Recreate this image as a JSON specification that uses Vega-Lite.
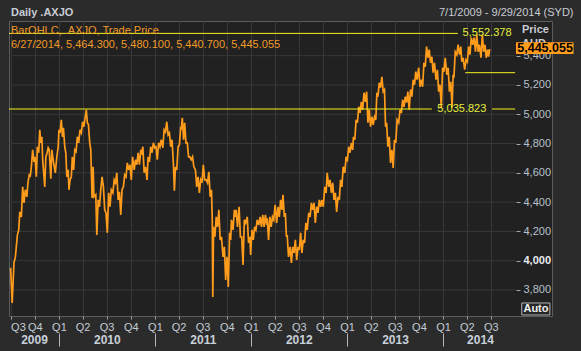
{
  "$schema": "https://vega.github.io/schema/vega-lite/v6.json",
  "autosize": {"type": "none"},
  "padding": {"left": 9, "top": 21, "right": 29, "bottom": 35},
  "width": 543,
  "height": 295,
  "background": "#2b2b2b",
  "config": {
    "view": {"fill": "#212121", "stroke": "#5c5c5c", "strokeWidth": 1},
    "font": "Liberation Sans"
  },
  "title": {
    "text": "Daily .AXJO",
    "subtitle": ["BarOHLC, .AXJO, Trade Price", "6/27/2014, 5,464.300, 5,480.100, 5,440.700, 5,445.055"],
    "anchor": "start",
    "frame": "group",
    "orient": "top",
    "offset": -43,
    "dx": 2,
    "font": "Liberation Sans",
    "fontSize": 11,
    "fontWeight": "bold",
    "color": "#c8ccd4",
    "subtitleFont": "Liberation Sans",
    "subtitleFontSize": 11,
    "subtitleColor": "#f09a28",
    "subtitleLineHeight": 14,
    "subtitlePadding": 6.7
  },
  "resolve": {"axis": {"x": "independent", "y": "independent"}},
  "layer": [
    {
      "data": {"values": [{"g": 3800}, {"g": 4000}, {"g": 4200}, {"g": 4400}, {"g": 4600}, {"g": 4800}, {"g": 5000}, {"g": 5200}, {"g": 5400}]},
      "mark": {"type": "rule", "color": "#383838", "strokeWidth": 1},
      "encoding": {
        "y": {
          "field": "g",
          "type": "quantitative",
          "scale": {"domain": [3622, 5637], "zero": false, "nice": false},
          "axis": {
            "orient": "right",
            "offset": -36,
            "values": [3800, 4000, 4200, 4400, 4600, 4800, 5000, 5200, 5400],
            "format": ",d",
            "domain": false,
            "grid": false,
            "ticks": true,
            "tickSize": 4,
            "tickColor": "#a0a8b2",
            "labelPadding": 3,
            "labelFont": "Liberation Sans",
            "labelFontSize": 11,
            "labelAlign": "left",
            "labelBaseline": "middle",
            "labelColor": {"condition": {"test": "datum.value === 4000", "value": "#e8ecf0"}, "value": "#b8c0ca"},
            "labelFontWeight": {"condition": {"test": "datum.value === 4000", "value": "bold"}, "value": "normal"},
            "title": ["Price", "AUD"],
            "titleAngle": 0,
            "titleX": 5.5,
            "titleY": 11,
            "titleAlign": "left",
            "titleBaseline": "alphabetic",
            "titleFont": "Liberation Sans",
            "titleFontSize": 11,
            "titleFontWeight": "bold",
            "titleColor": "#c8ccd4",
            "titleLineHeight": 14
          }
        },
        "x": {
          "datum": {"year": 2009, "month": 6, "date": 25, "utc": true},
          "type": "temporal",
          "axis": {
            "orient": "top",
            "labels": false,
            "ticks": false,
            "domain": false,
            "grid": false,
            "title": "7/1/2009 - 9/29/2014 (SYD)",
            "titleX": 564,
            "titleY": -8.5,
            "titleAlign": "right",
            "titleBaseline": "middle",
            "titleAngle": 0,
            "titleFont": "Liberation Sans",
            "titleFontSize": 11,
            "titleFontWeight": "normal",
            "titleColor": "#c8ccd4"
          }
        },
        "x2": {"datum": {"year": 2014, "month": 10, "date": 5, "utc": true}}
      }
    },
    {
      "data": {
        "format": {"parse": {"d": "utc:'%Y-%j'"}},
        "values": [
          {"d":"2009-182","p":3951},{"d":"2009-188","p":3711},{"d":"2009-195","p":3988},{"d":"2009-200","p":4022},{"d":"2009-208","p":4176},{"d":"2009-213","p":4210},{"d":"2009-217","p":4333},{"d":"2009-223","p":4299},{"d":"2009-228","p":4504},{"d":"2009-233","p":4395},{"d":"2009-238","p":4484},{"d":"2009-244","p":4436},{"d":"2009-248","p":4532},{"d":"2009-253","p":4586},{"d":"2009-257","p":4580},{"d":"2009-261","p":4641},{"d":"2009-266","p":4757},{"d":"2009-271","p":4675},{"d":"2009-275","p":4709},{"d":"2009-280","p":4573},{"d":"2009-284","p":4778},{"d":"2009-289","p":4737},{"d":"2009-293","p":4894},{"d":"2009-297","p":4805},{"d":"2009-301","p":4846},{"d":"2009-304","p":4689},{"d":"2009-308","p":4600},{"d":"2009-312","p":4504},{"d":"2009-316","p":4709},{"d":"2009-321","p":4737},{"d":"2009-325","p":4771},{"d":"2009-329","p":4757},{"d":"2009-335","p":4560},{"d":"2009-339","p":4757},{"d":"2009-344","p":4689},{"d":"2009-347","p":4655},{"d":"2009-352","p":4600},{"d":"2009-358","p":4709},{"d":"2009-363","p":4778},
          {"d":"2010-1","p":4894},{"d":"2010-5","p":4873},{"d":"2010-10","p":4962},{"d":"2010-14","p":4846},{"d":"2010-18","p":4908},{"d":"2010-23","p":4778},{"d":"2010-27","p":4737},{"d":"2010-31","p":4573},{"d":"2010-36","p":4620},{"d":"2010-39","p":4484},{"d":"2010-43","p":4552},{"d":"2010-48","p":4573},{"d":"2010-52","p":4709},{"d":"2010-57","p":4620},{"d":"2010-61","p":4757},{"d":"2010-66","p":4745},{"d":"2010-71","p":4846},{"d":"2010-76","p":4805},{"d":"2010-81","p":4894},{"d":"2010-86","p":4873},{"d":"2010-91","p":4949},{"d":"2010-96","p":4915},{"d":"2010-101","p":4983},{"d":"2010-105","p":5031},{"d":"2010-109","p":4942},{"d":"2010-113","p":4930},{"d":"2010-118","p":4805},{"d":"2010-122","p":4757},{"d":"2010-127","p":4429},{"d":"2010-131","p":4641},{"d":"2010-134","p":4436},{"d":"2010-141","p":4450},{"d":"2010-145","p":4176},{"d":"2010-150","p":4415},{"d":"2010-155","p":4368},{"d":"2010-160","p":4484},{"d":"2010-165","p":4573},{"d":"2010-170","p":4504},{"d":"2010-175","p":4347},{"d":"2010-180","p":4326},{"d":"2010-185","p":4190},{"d":"2010-190","p":4463},{"d":"2010-195","p":4368},{"d":"2010-200","p":4484},{"d":"2010-206","p":4463},{"d":"2010-211","p":4552},{"d":"2010-216","p":4532},{"d":"2010-221","p":4600},{"d":"2010-226","p":4415},{"d":"2010-231","p":4470},{"d":"2010-236","p":4313},{"d":"2010-241","p":4484},{"d":"2010-246","p":4504},{"d":"2010-251","p":4586},{"d":"2010-256","p":4573},{"d":"2010-261","p":4668},{"d":"2010-266","p":4620},{"d":"2010-271","p":4655},{"d":"2010-276","p":4552},{"d":"2010-281","p":4709},{"d":"2010-287","p":4620},{"d":"2010-292","p":4689},{"d":"2010-297","p":4655},{"d":"2010-302","p":4737},{"d":"2010-307","p":4655},{"d":"2010-312","p":4757},{"d":"2010-316","p":4737},{"d":"2010-320","p":4778},{"d":"2010-325","p":4600},{"d":"2010-330","p":4641},{"d":"2010-336","p":4552},{"d":"2010-340","p":4709},{"d":"2010-345","p":4675},{"d":"2010-350","p":4778},{"d":"2010-355","p":4737},{"d":"2010-360","p":4805},{"d":"2010-365","p":4771},
          {"d":"2011-5","p":4778},{"d":"2011-10","p":4689},{"d":"2011-15","p":4805},{"d":"2011-20","p":4778},{"d":"2011-25","p":4826},{"d":"2011-31","p":4771},{"d":"2011-36","p":4894},{"d":"2011-41","p":4880},{"d":"2011-46","p":4949},{"d":"2011-51","p":4860},{"d":"2011-56","p":4873},{"d":"2011-61","p":4778},{"d":"2011-66","p":4826},{"d":"2011-71","p":4668},{"d":"2011-75","p":4477},{"d":"2011-79","p":4641},{"d":"2011-84","p":4620},{"d":"2011-89","p":4778},{"d":"2011-94","p":4791},{"d":"2011-99","p":4915},{"d":"2011-101","p":4894},{"d":"2011-105","p":4976},{"d":"2011-110","p":4826},{"d":"2011-114","p":4942},{"d":"2011-119","p":4805},{"d":"2011-124","p":4805},{"d":"2011-129","p":4709},{"d":"2011-134","p":4709},{"d":"2011-139","p":4689},{"d":"2011-144","p":4709},{"d":"2011-149","p":4641},{"d":"2011-155","p":4620},{"d":"2011-160","p":4504},{"d":"2011-165","p":4573},{"d":"2011-170","p":4463},{"d":"2011-175","p":4552},{"d":"2011-180","p":4532},{"d":"2011-185","p":4655},{"d":"2011-190","p":4552},{"d":"2011-196","p":4552},{"d":"2011-201","p":4532},{"d":"2011-206","p":4607},{"d":"2011-211","p":4436},{"d":"2011-216","p":4484},{"d":"2011-219","p":4279},{"d":"2011-221","p":3752},{"d":"2011-224","p":4231},{"d":"2011-229","p":4163},{"d":"2011-234","p":4299},{"d":"2011-239","p":4231},{"d":"2011-244","p":4347},{"d":"2011-249","p":4142},{"d":"2011-254","p":4163},{"d":"2011-260","p":4026},{"d":"2011-265","p":4094},{"d":"2011-270","p":3868},{"d":"2011-275","p":4026},{"d":"2011-280","p":3820},{"d":"2011-285","p":4190},{"d":"2011-289","p":4142},{"d":"2011-292","p":4279},{"d":"2011-298","p":4210},{"d":"2011-303","p":4347},{"d":"2011-307","p":4299},{"d":"2011-310","p":4347},{"d":"2011-315","p":4231},{"d":"2011-321","p":4368},{"d":"2011-326","p":4163},{"d":"2011-331","p":4163},{"d":"2011-336","p":3971},{"d":"2011-341","p":4279},{"d":"2011-346","p":4258},{"d":"2011-352","p":4299},{"d":"2011-357","p":4121},{"d":"2011-362","p":4163},{"d":"2011-365","p":4039},
          {"d":"2012-5","p":4210},{"d":"2012-10","p":4142},{"d":"2012-15","p":4231},{"d":"2012-20","p":4210},{"d":"2012-25","p":4279},{"d":"2012-31","p":4244},{"d":"2012-36","p":4299},{"d":"2012-41","p":4231},{"d":"2012-46","p":4313},{"d":"2012-51","p":4231},{"d":"2012-56","p":4313},{"d":"2012-61","p":4244},{"d":"2012-63","p":4290},{"d":"2012-68","p":4142},{"d":"2012-73","p":4299},{"d":"2012-78","p":4231},{"d":"2012-83","p":4299},{"d":"2012-88","p":4279},{"d":"2012-93","p":4381},{"d":"2012-99","p":4258},{"d":"2012-104","p":4368},{"d":"2012-109","p":4299},{"d":"2012-114","p":4415},{"d":"2012-119","p":4347},{"d":"2012-123","p":4450},{"d":"2012-128","p":4299},{"d":"2012-132","p":4326},{"d":"2012-136","p":4163},{"d":"2012-139","p":4175},{"d":"2012-144","p":4026},{"d":"2012-150","p":4094},{"d":"2012-155","p":3985},{"d":"2012-160","p":4094},{"d":"2012-165","p":4053},{"d":"2012-170","p":4142},{"d":"2012-175","p":4005},{"d":"2012-180","p":4094},{"d":"2012-185","p":4073},{"d":"2012-190","p":4190},{"d":"2012-195","p":4053},{"d":"2012-200","p":4142},{"d":"2012-205","p":4121},{"d":"2012-210","p":4258},{"d":"2012-215","p":4210},{"d":"2012-221","p":4326},{"d":"2012-226","p":4299},{"d":"2012-231","p":4395},{"d":"2012-236","p":4347},{"d":"2012-241","p":4395},{"d":"2012-246","p":4258},{"d":"2012-251","p":4368},{"d":"2012-256","p":4326},{"d":"2012-261","p":4415},{"d":"2012-266","p":4368},{"d":"2012-271","p":4415},{"d":"2012-276","p":4368},{"d":"2012-282","p":4504},{"d":"2012-287","p":4463},{"d":"2012-291","p":4600},{"d":"2012-297","p":4504},{"d":"2012-302","p":4552},{"d":"2012-307","p":4463},{"d":"2012-312","p":4532},{"d":"2012-317","p":4415},{"d":"2012-322","p":4463},{"d":"2012-327","p":4333},{"d":"2012-332","p":4436},{"d":"2012-337","p":4415},{"d":"2012-342","p":4552},{"d":"2012-347","p":4504},{"d":"2012-352","p":4641},{"d":"2012-358","p":4600},{"d":"2012-363","p":4709},
          {"d":"2013-2","p":4689},{"d":"2013-7","p":4778},{"d":"2013-12","p":4737},{"d":"2013-17","p":4805},{"d":"2013-22","p":4757},{"d":"2013-25","p":4846},{"d":"2013-30","p":4826},{"d":"2013-35","p":4962},{"d":"2013-40","p":4942},{"d":"2013-45","p":5051},{"d":"2013-50","p":5010},{"d":"2013-55","p":5085},{"d":"2013-60","p":5031},{"d":"2013-65","p":5147},{"d":"2013-70","p":5085},{"d":"2013-75","p":5154},{"d":"2013-80","p":4942},{"d":"2013-85","p":5031},{"d":"2013-90","p":4915},{"d":"2013-95","p":4983},{"d":"2013-100","p":4928},{"d":"2013-105","p":4983},{"d":"2013-110","p":4962},{"d":"2013-114","p":5147},{"d":"2013-118","p":5120},{"d":"2013-123","p":5215},{"d":"2013-128","p":5181},{"d":"2013-133","p":5256},{"d":"2013-138","p":5154},{"d":"2013-143","p":5168},{"d":"2013-147","p":4915},{"d":"2013-151","p":4942},{"d":"2013-156","p":4778},{"d":"2013-161","p":4846},{"d":"2013-166","p":4668},{"d":"2013-171","p":4757},{"d":"2013-176","p":4634},{"d":"2013-181","p":4826},{"d":"2013-186","p":4805},{"d":"2013-191","p":4962},{"d":"2013-197","p":4942},{"d":"2013-202","p":5031},{"d":"2013-207","p":5010},{"d":"2013-212","p":5099},{"d":"2013-217","p":5051},{"d":"2013-222","p":5120},{"d":"2013-227","p":5079},{"d":"2013-232","p":5154},{"d":"2013-237","p":5031},{"d":"2013-242","p":5168},{"d":"2013-247","p":5120},{"d":"2013-252","p":5236},{"d":"2013-257","p":5202},{"d":"2013-262","p":5291},{"d":"2013-267","p":5236},{"d":"2013-273","p":5318},{"d":"2013-278","p":5188},{"d":"2013-283","p":5236},{"d":"2013-288","p":5188},{"d":"2013-293","p":5352},{"d":"2013-298","p":5325},{"d":"2013-303","p":5462},{"d":"2013-308","p":5386},{"d":"2013-313","p":5441},{"d":"2013-318","p":5352},{"d":"2013-323","p":5393},{"d":"2013-328","p":5284},{"d":"2013-333","p":5352},{"d":"2013-339","p":5236},{"d":"2013-344","p":5304},{"d":"2013-349","p":5154},{"d":"2013-354","p":5202},{"d":"2013-359","p":5044},{"d":"2013-364","p":5318},
          {"d":"2014-4","p":5291},{"d":"2014-9","p":5386},{"d":"2014-15","p":5270},{"d":"2014-20","p":5318},{"d":"2014-25","p":5154},{"d":"2014-30","p":5222},{"d":"2014-35","p":5044},{"d":"2014-39","p":5270},{"d":"2014-42","p":5250},{"d":"2014-47","p":5427},{"d":"2014-53","p":5407},{"d":"2014-58","p":5475},{"d":"2014-63","p":5407},{"d":"2014-68","p":5462},{"d":"2014-72","p":5359},{"d":"2014-77","p":5386},{"d":"2014-83","p":5304},{"d":"2014-88","p":5373},{"d":"2014-93","p":5359},{"d":"2014-98","p":5462},{"d":"2014-103","p":5407},{"d":"2014-108","p":5523},{"d":"2014-114","p":5475},{"d":"2014-119","p":5523},{"d":"2014-124","p":5427},{"d":"2014-129","p":5544},{"d":"2014-134","p":5427},{"d":"2014-139","p":5475},{"d":"2014-145","p":5386},{"d":"2014-150","p":5544},{"d":"2014-155","p":5427},{"d":"2014-160","p":5475},{"d":"2014-165","p":5386},{"d":"2014-170","p":5441},{"d":"2014-174","p":5393},{"d":"2014-178","p":5445.055}
        ]
      },
      "mark": {"type": "line", "color": "#ff9c1c", "strokeWidth": 1.7},
      "encoding": {
        "x": {
          "field": "d",
          "type": "temporal",
          "scale": {"type": "utc", "nice": false, "domain": [{"year": 2009, "month": 6, "date": 25, "utc": true}, {"year": 2015, "month": 2, "date": 19, "utc": true}]},
          "axis": {
            "orient": "bottom",
            "values": [
              {"year": 2009, "month": 7, "date": 1, "utc": true}, {"year": 2009, "month": 10, "date": 1, "utc": true},
              {"year": 2010, "month": 1, "date": 1, "utc": true}, {"year": 2010, "month": 4, "date": 1, "utc": true}, {"year": 2010, "month": 7, "date": 1, "utc": true}, {"year": 2010, "month": 10, "date": 1, "utc": true},
              {"year": 2011, "month": 1, "date": 1, "utc": true}, {"year": 2011, "month": 4, "date": 1, "utc": true}, {"year": 2011, "month": 7, "date": 1, "utc": true}, {"year": 2011, "month": 10, "date": 1, "utc": true},
              {"year": 2012, "month": 1, "date": 1, "utc": true}, {"year": 2012, "month": 4, "date": 1, "utc": true}, {"year": 2012, "month": 7, "date": 1, "utc": true}, {"year": 2012, "month": 10, "date": 1, "utc": true},
              {"year": 2013, "month": 1, "date": 1, "utc": true}, {"year": 2013, "month": 4, "date": 1, "utc": true}, {"year": 2013, "month": 7, "date": 1, "utc": true}, {"year": 2013, "month": 10, "date": 1, "utc": true},
              {"year": 2014, "month": 1, "date": 1, "utc": true}, {"year": 2014, "month": 4, "date": 1, "utc": true}, {"year": 2014, "month": 7, "date": 1, "utc": true}
            ],
            "labelExpr": "'Q' + utcquarter(datum.value)",
            "title": null,
            "domain": false,
            "ticks": true,
            "tickSize": 3,
            "tickColor": "#9aa2ac",
            "labelPadding": 2,
            "labelFont": "Liberation Sans",
            "labelFontSize": 11,
            "labelColor": "#c4ccd6",
            "labelFlush": 3,
            "labelOverlap": false,
            "labelBound": false,
            "grid": true,
            "gridColor": "#383838"
          }
        },
        "y": {"field": "p", "type": "quantitative", "axis": null}
      }
    },
    {
      "data": {"values": [
        {"level": 5552.378, "from": "2009-06-25", "to": "2014-02-26"},
        {"level": 5035.823, "from": "2009-06-25", "to": "2013-11-19"},
        {"level": 5035.823, "from": "2014-07-06", "to": "2014-10-02"},
        {"level": 5284, "from": "2014-03-26", "to": "2014-10-02"}
      ]},
      "mark": {"type": "rule", "color": "#f2f21c", "strokeWidth": 1},
      "encoding": {
        "x": {
          "field": "from",
          "type": "temporal",
          "axis": {
            "orient": "bottom",
            "values": [
              {"year": 2009, "month": 9, "date": 28, "utc": true},
              {"year": 2010, "month": 7, "date": 2, "utc": true},
              {"year": 2011, "month": 7, "date": 2, "utc": true},
              {"year": 2012, "month": 7, "date": 1, "utc": true},
              {"year": 2013, "month": 7, "date": 2, "utc": true},
              {"year": 2014, "month": 5, "date": 21, "utc": true}
            ],
            "labelExpr": "utcFormat(datum.value, '%Y')",
            "title": null,
            "domain": false,
            "ticks": false,
            "tickSize": 0,
            "grid": false,
            "labelPadding": 18,
            "labelFont": "Liberation Sans",
            "labelFontSize": 12,
            "labelFontWeight": "bold",
            "labelColor": "#c8d0da",
            "labelOverlap": false,
            "labelBound": false,
            "labelFlush": false
          }
        },
        "x2": {"field": "to"},
        "y": {"field": "level", "type": "quantitative", "axis": null}
      }
    },
    {
      "data": {"values": [
        {"level": 5552.378, "at": "2014-03-16"},
        {"level": 5035.823, "at": "2013-12-10"}
      ]},
      "mark": {"type": "text", "align": "left", "baseline": "middle", "font": "Liberation Sans", "fontSize": 11, "color": "#e6f03c"},
      "encoding": {
        "x": {
          "field": "at",
          "type": "temporal",
          "axis": {
            "orient": "bottom",
            "offset": 17,
            "values": [
              {"year": 2010, "month": 1, "date": 1, "utc": true},
              {"year": 2011, "month": 1, "date": 1, "utc": true},
              {"year": 2012, "month": 1, "date": 1, "utc": true},
              {"year": 2013, "month": 1, "date": 1, "utc": true},
              {"year": 2014, "month": 1, "date": 1, "utc": true}
            ],
            "labels": false,
            "domain": false,
            "grid": false,
            "ticks": true,
            "tickSize": 13,
            "tickColor": "#b4b8be",
            "title": null
          }
        },
        "y": {"field": "level", "type": "quantitative", "axis": null},
        "text": {"field": "level", "type": "quantitative", "format": ",.3f"}
      }
    },
    {
      "data": {"values": [{"last": 5445.055}]},
      "mark": {"type": "rect", "color": "#ff9c1c"},
      "encoding": {
        "x": {"datum": {"year": 2014, "month": 10, "date": 5, "utc": true}, "type": "temporal", "axis": null},
        "x2": {"datum": {"year": 2015, "month": 5, "date": 12, "utc": true}},
        "y": {"datum": 5412, "type": "quantitative", "axis": null},
        "y2": {"datum": 5492}
      }
    },
    {
      "data": {"values": [{"last": 5445.055}]},
      "mark": {"type": "text", "align": "left", "baseline": "middle", "font": "Liberation Sans", "fontSize": 12.5, "fontWeight": "bold", "color": "#000000", "dy": -1},
      "encoding": {
        "x": {"datum": {"year": 2014, "month": 10, "date": 10, "utc": true}, "type": "temporal", "axis": null},
        "y": {"field": "last", "type": "quantitative", "axis": null},
        "text": {"field": "last", "type": "quantitative", "format": ",.3f"}
      }
    },
    {
      "data": {"values": [{"label": "Auto"}]},
      "mark": {"type": "rect", "fill": "#262626", "stroke": "#b4b4b4", "strokeWidth": 1},
      "encoding": {
        "x": {"datum": {"year": 2014, "month": 10, "date": 27, "utc": true}, "type": "temporal", "axis": null},
        "x2": {"datum": {"year": 2015, "month": 2, "date": 11, "utc": true}},
        "y": {"datum": 3629, "type": "quantitative", "axis": null},
        "y2": {"datum": 3711}
      }
    },
    {
      "data": {"values": [{"label": "Auto"}]},
      "mark": {"type": "text", "align": "center", "baseline": "middle", "font": "Liberation Sans", "fontSize": 11, "fontWeight": "bold", "color": "#f0f0f0"},
      "encoding": {
        "x": {"datum": {"year": 2014, "month": 12, "date": 20, "utc": true}, "type": "temporal", "axis": null},
        "y": {"datum": 3670, "type": "quantitative", "axis": null},
        "text": {"field": "label"}
      }
    }
  ]
}
